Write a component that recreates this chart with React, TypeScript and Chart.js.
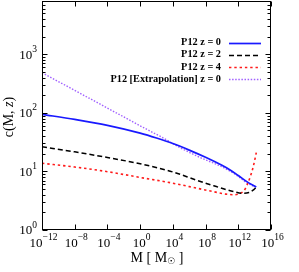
import React, { useEffect, useRef } from "react";
import { Chart, registerables } from "chart.js";

Chart.register(...registerables);

// ---- data (log10 of mass in solar masses, concentration c) ----
const logM_z0 = [-12, -8, -4, 0, 2, 4, 6, 8, 10, 11, 12, 13, 14.2];
const c_z0 = [94.4, 77.3, 61.2, 45.1, 37.2, 29.9, 23.1, 17.4, 12.7, 10.6, 8.51, 6.76, 5.42];

const logM_z2 = [-12, -8, -4, 0, 4, 7, 9, 10.5, 11.5, 12.5, 13.3, 13.9, 14.2];
const c_z2 = [26.4, 21.6, 17.3, 13.5, 9.8, 7.0, 5.69, 4.9, 4.5, 4.24, 4.37, 4.9, 5.42];

const logM_z4 = [-12, -8, -4, 0, 4, 7, 9, 10.5, 11.5, 12.2, 12.7, 13.1, 13.5, 13.85, 14.2];
const c_z4 = [13.8, 11.9, 9.9, 7.9, 6.3, 5.15, 4.5, 4.1, 4.0, 4.2, 4.7, 6.0, 8.4, 12.4, 20.9];

const logM_ext = [-12, -8, -4.93, 1.2, 2.43, 4.88, 7.33, 9.78, 11.6, 12.83, 13.6, 14.1];
const c_ext = [485, 242, 142, 49, 40, 25.5, 17.3, 12.4, 9.0, 6.7, 5.8, 5.4];

const seriesLabels = ["P12 z = 0", "P12 z = 2", "P12 z = 4", "P12 [Extrapolation] z = 0"];

const xTickExps = [-12, -8, -4, 0, 4, 8, 12, 16];
const yTickExps = [0, 1, 2, 3];
const yMinorMults = [2, 3, 4, 5, 6, 7, 8, 9];

const X_MIN = 1e-12;
const X_MAX = 1e16;
const Y_MIN = 1;
const Y_MAX = 8130;

const SERIF = "'Liberation Serif', 'Times New Roman', 'DejaVu Serif', serif";

function toPoints(lm: number[], c: number[]) {
  return lm.map((l, i) => ({ x: Math.pow(10, l), y: c[i] }));
}

function expText(e: number) {
  return e < 0 ? "\u2212" + String(-e) : String(e);
}

const decorPlugin = {
  id: "decor",
  afterDatasetsDraw(chart: any) {
    const { ctx, chartArea: a, scales } = chart;
    const xs = scales.x;
    const ys = scales.y;
    ctx.save();
    ctx.strokeStyle = "#000";
    ctx.lineWidth = 1;
    ctx.setLineDash([]);
    const L = a.left + 0.5, R = a.right - 0.5, T = a.top + 0.5, B = a.bottom - 0.5;
    ctx.strokeRect(L, T, R - L, B - T);

    ctx.beginPath();
    xTickExps.forEach((e) => {
      const px = Math.round(xs.getPixelForValue(Math.pow(10, e))) + 0.5;
      ctx.moveTo(px, B);
      ctx.lineTo(px, B - 5);
      ctx.moveTo(px, T);
      ctx.lineTo(px, T + 5);
    });
    yTickExps.forEach((e) => {
      const py = Math.round(ys.getPixelForValue(Math.pow(10, e))) + 0.5;
      ctx.moveTo(L, py);
      ctx.lineTo(L + 5, py);
      ctx.moveTo(R, py);
      ctx.lineTo(R - 5, py);
    });
    [0, 1, 2, 3].forEach((e) => {
      yMinorMults.forEach((m) => {
        const v = m * Math.pow(10, e);
        if (v > Y_MAX) return;
        const py = Math.round(ys.getPixelForValue(v)) + 0.5;
        ctx.moveTo(L, py);
        ctx.lineTo(L + 3, py);
        ctx.moveTo(R, py);
        ctx.lineTo(R - 3, py);
      });
    });
    ctx.stroke();

    ctx.fillStyle = "#000";
    const baseFont = `13px ${SERIF}`;
    const supFont = `9.5px ${SERIF}`;
    ctx.textBaseline = "middle";
    ctx.textAlign = "left";
    xTickExps.forEach((e) => {
      const px = xs.getPixelForValue(Math.pow(10, e));
      ctx.font = baseFont;
      const w1 = ctx.measureText("10").width;
      ctx.font = supFont;
      const et = expText(e);
      const w2 = ctx.measureText(et).width;
      const start = px - (w1 + w2) / 2 + 1.5;
      ctx.font = baseFont;
      ctx.fillText("10", start, 243.5);
      ctx.font = supFont;
      ctx.fillText(et, start + w1, 237);
    });
    yTickExps.forEach((e) => {
      const py = ys.getPixelForValue(Math.pow(10, e));
      ctx.font = supFont;
      const et = expText(e);
      const w2 = ctx.measureText(et).width;
      ctx.font = baseFont;
      const w1 = ctx.measureText("10").width;
      const start = 37 - w1 - w2;
      ctx.fillText("10", start, py + 1);
      ctx.font = supFont;
      ctx.fillText(et, start + w1, py - 5);
    });

    // y title
    ctx.save();
    ctx.translate(9, 117);
    ctx.rotate(-Math.PI / 2);
    const tf = `14px ${SERIF}`;
    const tfi = `italic 14px ${SERIF}`;
    const parts: [string, string][] = [["c(M, ", tf], ["z", tfi], [")", tf]];
    let tw = 0;
    parts.forEach(([t, f]) => { ctx.font = f; tw += ctx.measureText(t).width; });
    let cx = -tw / 2;
    parts.forEach(([t, f]) => {
      ctx.font = f;
      ctx.fillText(t, cx, 0);
      cx += ctx.measureText(t).width;
    });
    ctx.restore();

    // x title
    const xparts: [string, string, number][] = [
      ["M [ M", `14px ${SERIF}`, 0],
      ["\u2609", `9px 'DejaVu Sans', sans-serif`, 4],
      [" ]", `14px ${SERIF}`, 0],
    ];
    let xw = 0;
    xparts.forEach(([t, f]) => { ctx.font = f; xw += ctx.measureText(t).width; });
    let sx = 157 - xw / 2;
    xparts.forEach(([t, f, dy]) => {
      ctx.font = f;
      ctx.fillText(t, sx, 258 + dy);
      sx += ctx.measureText(t).width;
    });

    // legend
    chart.data.datasets.forEach((ds: any, i: number) => {
      const ly = 42.5 + i * 12.3;
      ctx.font = `bold 10.3px ${SERIF}`;
      ctx.textAlign = "right";
      ctx.fillStyle = "#000";
      ctx.fillText(seriesLabels[i], 221, ly);
      ctx.beginPath();
      ctx.strokeStyle = ds.borderColor;
      ctx.lineWidth = ds.borderWidth;
      ctx.setLineDash(ds.borderDash || []);
      ctx.moveTo(229, Math.round(ly) + 0.5);
      ctx.lineTo(261, Math.round(ly) + 0.5);
      ctx.stroke();
    });
    ctx.restore();
  },
};

export default function App() {
  const ref = useRef<HTMLCanvasElement>(null);
  useEffect(() => {
    document.body.style.margin = "0";
    const chart = new Chart(ref.current as HTMLCanvasElement, {
      type: "line",
      data: {
        datasets: [
          {
            label: seriesLabels[0],
            data: toPoints(logM_z0, c_z0),
            borderColor: "rgb(25,25,255)",
            borderWidth: 1.7,
            borderDash: [],
            pointRadius: 0,
            cubicInterpolationMode: "monotone",
          },
          {
            label: seriesLabels[1],
            data: toPoints(logM_z2, c_z2),
            borderColor: "#000000",
            borderWidth: 1.5,
            borderDash: [5, 3],
            pointRadius: 0,
            cubicInterpolationMode: "monotone",
          },
          {
            label: seriesLabels[2],
            data: toPoints(logM_z4, c_z4),
            borderColor: "#ff1a1a",
            borderWidth: 1.6,
            borderDash: [2.4, 2.9],
            pointRadius: 0,
            cubicInterpolationMode: "monotone",
          },
          {
            label: seriesLabels[3],
            data: toPoints(logM_ext, c_ext),
            borderColor: "#a060ff",
            borderWidth: 1.4,
            borderDash: [1.5, 1.6],
            pointRadius: 0,
            cubicInterpolationMode: "monotone",
          },
        ] as any,
      },
      options: {
        responsive: false,
        animation: false,
        devicePixelRatio: 1,
        layout: { padding: { top: 1, right: 28, left: 0, bottom: 0 } },
        plugins: { legend: { display: false }, tooltip: { enabled: false } },
        scales: {
          x: {
            type: "logarithmic",
            min: X_MIN,
            max: X_MAX,
            ticks: { display: false },
            grid: { display: false, drawTicks: false },
            border: { display: false },
            afterFit: (s: any) => { s.height = 42; },
          },
          y: {
            type: "logarithmic",
            min: Y_MIN,
            max: Y_MAX,
            ticks: { display: false },
            grid: { display: false, drawTicks: false },
            border: { display: false },
            afterFit: (s: any) => { s.width = 42; },
          },
        },
      } as any,
      plugins: [decorPlugin],
    });
    return () => chart.destroy();
  }, []);
  return (
    <div style={{ width: 299, height: 272, position: "relative", background: "#fff" }}>
      <canvas ref={ref} width={299} height={272} style={{ display: "block", width: 299, height: 272 }} />
    </div>
  );
}
